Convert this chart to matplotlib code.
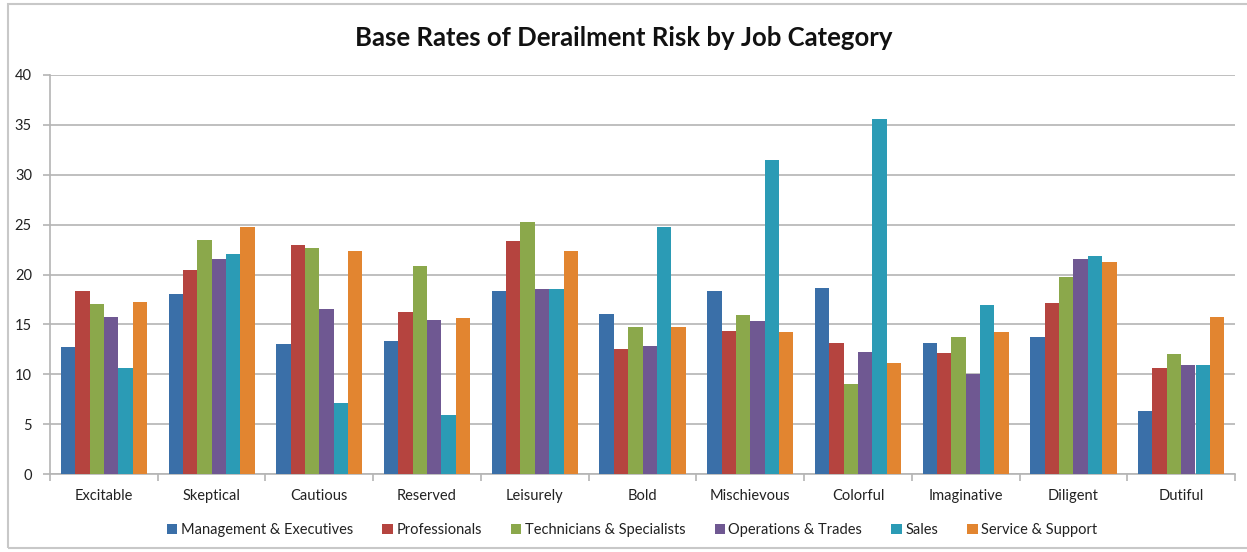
import numpy as np
import matplotlib

matplotlib.use("Agg")
import matplotlib.pyplot as plt
from matplotlib.patches import Rectangle
from matplotlib.ticker import MultipleLocator, FixedLocator

CATEGORIES = ["Excitable", "Skeptical", "Cautious", "Reserved", "Leisurely",
              "Bold", "Mischievous", "Colorful", "Imaginative", "Diligent",
              "Dutiful"]
SERIES = ["Management & Executives", "Professionals",
          "Technicians & Specialists", "Operations & Trades", "Sales",
          "Service & Support"]

management = [12.7, 18.0, 13.0, 13.3, 18.3, 16.0, 18.3, 18.6, 13.1, 13.7, 6.3]
professionals = [18.3, 20.5, 23.0, 16.2, 23.4, 12.5, 14.3, 13.1, 12.1, 17.1, 10.6]
technicians = [17.0, 23.5, 22.7, 20.9, 25.3, 14.7, 15.9, 9.0, 13.7, 19.7, 12.0]
operations = [15.7, 21.6, 16.5, 15.4, 18.5, 12.8, 15.3, 12.2, 10.0, 21.6, 10.9]
sales = [10.6, 22.1, 7.1, 5.9, 18.5, 24.8, 31.5, 35.6, 16.9, 21.9, 10.9]
service = [17.2, 24.8, 22.4, 15.6, 22.4, 14.7, 14.2, 11.1, 14.2, 21.3, 15.7]

VALUES = [management, professionals, technicians, operations, sales, service]
COLORS = ["#3a6fa8", "#b5443f", "#8ba84b", "#6f5892", "#2b9bb5", "#e28530"]

GRID = "#b4b4b4"
FONT = ["Lato", "DejaVu Sans"]

fig = plt.figure(figsize=(12.47, 5.52), dpi=100)
fig.patch.set_facecolor("white")
# outer chart frame
fig.patches.append(Rectangle((8 / 1247, 4 / 552), 1300 / 1247, 544 / 552,
                             transform=fig.transFigure, fill=False,
                             edgecolor="#c8c8c8", linewidth=1.5))

ax = fig.add_axes([50 / 1247, 1 - 474 / 552, 1185 / 1247, 399 / 552])

x = np.arange(len(CATEGORIES))
width = 0.8 / len(SERIES)
for k, (name, vals, color) in enumerate(zip(SERIES, VALUES, COLORS)):
    offs = (k - (len(SERIES) - 1) / 2) * width
    ax.bar(x + offs, vals, width=width, color=color, label=name, zorder=3)

ax.set_xlim(-0.5, len(CATEGORIES) - 0.5)
ax.set_ylim(0, 40)
ax.yaxis.set_major_locator(MultipleLocator(5))
ax.grid(axis="y", color=GRID, linewidth=1.2, zorder=0)
ax.set_axisbelow(True)

for side in ("top", "right"):
    ax.spines[side].set_visible(False)
for side in ("left", "bottom"):
    ax.spines[side].set_color(GRID)
    ax.spines[side].set_linewidth(1.2)

ax.set_xticks(x)
ax.set_xticklabels(CATEGORIES, fontsize=10.5, family=FONT, color="#222222")
ax.tick_params(axis="x", which="major", length=0, pad=11)
ax.xaxis.set_minor_locator(FixedLocator(np.arange(-0.5, len(CATEGORIES), 1)))
ax.tick_params(axis="x", which="minor", length=5, color=GRID, width=1.2)
ax.tick_params(axis="y", length=5, color=GRID, width=1.2, labelsize=10.5,
               labelcolor="#222222", pad=8)
for lab in ax.get_yticklabels():
    lab.set_family(FONT)

fig.text(0.5, 1 - 38 / 552, "Base Rates of Derailment Risk by Job Category",
         ha="center", va="center", fontsize=18.5, fontweight="bold",
         family=FONT, color="#111111")

fig.legend(loc="center", bbox_to_anchor=(0.507, 1 - 530 / 552), ncol=6,
           frameon=False, prop={"family": FONT, "size": 10.5},
           handlelength=0.7, handleheight=0.7, handletextpad=0.25,
           columnspacing=2.0, labelcolor="#222222")

fig.savefig("out.png", dpi=100, facecolor="white")
